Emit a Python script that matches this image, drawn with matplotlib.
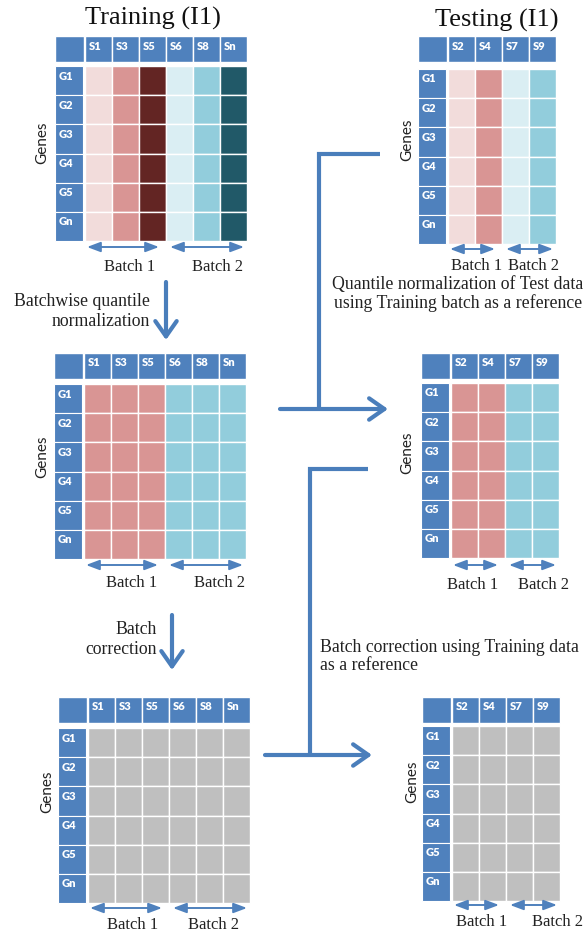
import matplotlib
matplotlib.use("Agg")
import matplotlib.pyplot as plt
from matplotlib.patches import Rectangle

# ---------------- data ----------------
train_samples = ["S1", "S3", "S5", "S6", "S8", "Sn"]
test_samples = ["S2", "S4", "S7", "S9"]
genes = ["G1", "G2", "G3", "G4", "G5", "Gn"]
batch_labels = ["Batch 1", "Batch 2"]
train_batch_sizes = [3, 3]
test_batch_sizes = [2, 2]

train_raw_colors = ["#F2DCDB", "#D99594", "#632523", "#DAEEF3", "#92CDDC", "#215968"]
test_raw_colors = ["#F2DCDB", "#D99594", "#DAEEF3", "#92CDDC"]
train_qn_colors = ["#D99594", "#D99594", "#D99594", "#92CDDC", "#92CDDC", "#92CDDC"]
test_qn_colors = ["#D99594", "#D99594", "#92CDDC", "#92CDDC"]
train_bc_colors = ["#BFBFBF"] * 6
test_bc_colors = ["#BFBFBF"] * 4

titles = ["Training (I1)", "Testing (I1)"]
step_texts = {
    "qn": ["Batchwise quantile", "normalization"],
    "bc": ["Batch", "correction"],
    "test_qn": ["Quantile normalization of Test data", "using Training batch as a reference"],
    "test_bc": ["Batch correction using Training data", "as a reference"],
}

# ---------------- style ----------------
BLUE = "#4F81BD"
LINE = "#4A7EBB"
SERIF = "Liberation Serif"
SANS = "Lato"

W, H = 587, 936
fig = plt.figure(figsize=(W / 100, H / 100), dpi=100)
ax = fig.add_axes([0, 0, 1, 1])
ax.set_xlim(0, W)
ax.set_ylim(H, 0)
ax.axis("off")


def draw_table(x0, y_head, y_body, samples, colors, batch_sizes,
               arrow_y, label_y, label_xs, genes_pos):
    gw, gap, cw, hh = 28, 2, 27, 26
    rh = 175 / len(genes)
    dx0 = x0 + gw + gap
    # header row
    ax.add_patch(Rectangle((x0, y_head), gw + gap / 2, hh, facecolor=BLUE,
                           edgecolor="white", lw=1.0))
    for i, s in enumerate(samples):
        ax.add_patch(Rectangle((dx0 + i * cw, y_head), cw, hh, facecolor=BLUE,
                               edgecolor="white", lw=1.0))
        ax.text(dx0 + i * cw + 4, y_head + 10, s, color="white", fontsize=8,
                fontweight="heavy", family=SANS, ha="left", va="center")
    # body
    for j, g in enumerate(genes):
        y = y_body + j * rh
        ax.add_patch(Rectangle((x0, y), gw, rh, facecolor=BLUE,
                               edgecolor="white", lw=0.8))
        ax.text(x0 + 3.5, y + 10, g, color="white", fontsize=8,
                fontweight="heavy", family=SANS, ha="left", va="center")
        for i, c in enumerate(colors):
            ax.add_patch(Rectangle((dx0 + i * cw, y), cw, rh, facecolor=c,
                                   edgecolor="white", lw=1.0))
    # batch arrows
    start = 0
    for b, n in enumerate(batch_sizes):
        xa = dx0 + start * cw + (2 if b == 0 else 4)
        xb = dx0 + (start + n) * cw - (7 if b == 0 else 3)
        ax.annotate("", xy=(xb, arrow_y), xytext=(xa, arrow_y),
                    arrowprops=dict(arrowstyle="<|-|>,head_length=0.8,head_width=0.3",
                                    color=BLUE, lw=1.4, shrinkA=0, shrinkB=0,
                                    mutation_scale=10))
        ax.text(label_xs[b], label_y, batch_labels[b], fontsize=12, family=SERIF,
                ha="center", va="center", color="#222222")
        start += n
    ax.text(genes_pos[0], genes_pos[1], "Genes", rotation=90, fontsize=11,
            family=SANS, ha="center", va="center", color="#222222")


# training tables
draw_table(55, 36, 66, train_samples, train_raw_colors, train_batch_sizes,
           247, 267, [130, 217], (42, 143))
draw_table(54, 353, 384, train_samples, train_qn_colors, train_batch_sizes,
           565, 583, [132, 220], (42, 457))
draw_table(58, 697, 728, train_samples, train_bc_colors, train_batch_sizes,
           908, 925, [133, 213], (47, 792))
# testing tables
draw_table(418, 36, 69, test_samples, test_raw_colors, test_batch_sizes,
           249, 266, [477, 533], (407, 140))
draw_table(421, 353, 383, test_samples, test_qn_colors, test_batch_sizes,
           565, 585, [473, 543], (407, 453))
draw_table(422, 697, 726, test_samples, test_bc_colors, test_batch_sizes,
           905, 922, [482, 558], (412, 782))

# titles
ax.text(153, 18, titles[0], fontsize=19, family=SERIF, ha="center", va="center", color="#111111")
ax.text(497, 20, titles[1], fontsize=19, family=SERIF, ha="center", va="center", color="#111111")

# connectors
LW = 3.0
ax.plot([380, 319, 319], [154, 154, 409], color=LINE, lw=LW, solid_joinstyle="miter",
        solid_capstyle="butt")
ax.plot([368, 310, 310], [469, 469, 755], color=LINE, lw=LW, solid_joinstyle="miter",
        solid_capstyle="butt")
arrow_kw = dict(arrowstyle="->,head_length=0.5,head_width=0.35", color=LINE, lw=LW,
                shrinkA=0, shrinkB=0, mutation_scale=22)
ax.annotate("", xy=(388, 409), xytext=(280, 409), arrowprops=arrow_kw)
ax.annotate("", xy=(372, 755), xytext=(265, 755), arrowprops=arrow_kw)
ax.annotate("", xy=(166, 340), xytext=(166, 282), arrowprops=arrow_kw)
ax.annotate("", xy=(172, 670), xytext=(172, 615), arrowprops=arrow_kw)

# step texts
TXT = dict(fontsize=12.8, family=SERIF, color="#222222", va="center")
ax.text(150, 302, step_texts["qn"][0], ha="right", **TXT)
ax.text(150, 322, step_texts["qn"][1], ha="right", **TXT)
ax.text(157, 629, step_texts["bc"][0], ha="right", **TXT)
ax.text(157, 649, step_texts["bc"][1], ha="right", **TXT)
ax.text(458, 285, step_texts["test_qn"][0], ha="center", **TXT)
ax.text(458, 303, step_texts["test_qn"][1], ha="center", **TXT)
ax.text(320, 648, step_texts["test_bc"][0], ha="left", **TXT)
ax.text(320, 666, step_texts["test_bc"][1], ha="left", **TXT)

fig.savefig("out.png", dpi=100, facecolor="white")
